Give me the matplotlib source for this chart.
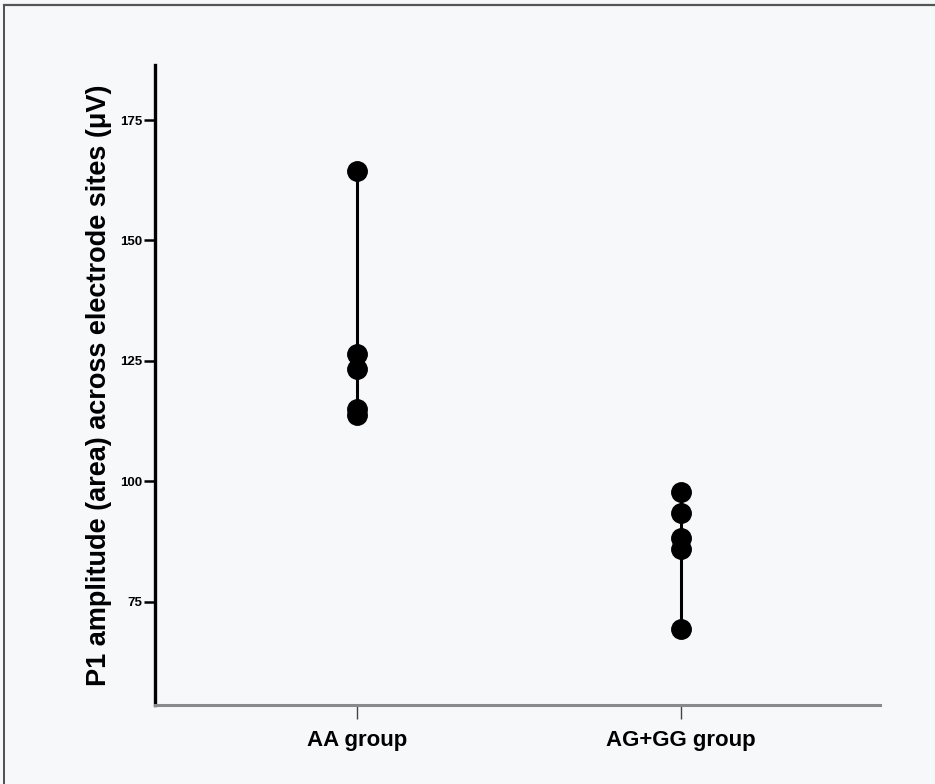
import matplotlib
matplotlib.use("Agg")
import matplotlib.pyplot as plt
from matplotlib.lines import Line2D

groups = ["AA group", "AG+GG group"]
aa_values = [164.5, 126.5, 123.4, 115.0, 113.8]
ag_gg_values = [97.8, 93.4, 88.3, 86.0, 69.4]
series = [aa_values, ag_gg_values]
yticks = [75, 100, 125, 150, 175]

plt.rcParams['font.family'] = ['Liberation Sans', 'DejaVu Sans']

fig = plt.figure(figsize=(9.35, 7.84), dpi=100, facecolor='#f7f8fa')
ax = fig.add_axes([0.1658, 0.1008, 0.7754, 0.8162])
ax.set_facecolor('#f7f8fa')

for i, vals in enumerate(series):
    ax.plot([i, i], [min(vals), max(vals)], color='black', lw=2.2, zorder=2)
    ax.plot([i] * len(vals), vals, 'o', color='black', ms=14, zorder=3)

ax.set_xlim(-0.623, 1.614)
ax.set_ylim(53.6, 186.4)
ax.set_yticks(yticks)
ax.set_yticklabels([str(t) for t in yticks], fontsize=9.5, fontweight='bold')
ax.set_xticks([0, 1])
ax.set_xticklabels(groups, fontsize=16, fontweight='bold')

for s in ['top', 'right']:
    ax.spines[s].set_visible(False)
ax.spines['left'].set_linewidth(2.4)
ax.spines['left'].set_color('black')
ax.spines['bottom'].set_linewidth(2.2)
ax.spines['bottom'].set_color('#8a8a8a')
ax.tick_params(axis='y', direction='out', length=8, width=1.8, color='black', pad=1)
ax.tick_params(axis='x', direction='out', length=10, width=1.0, color='#444444', pad=8)

ax.set_ylabel("P1 amplitude (area) across electrode sites (\u03bcV)",
              fontsize=19.5, fontweight='bold', labelpad=6)

# Frame lines along the top and left edges of the figure
fig.add_artist(Line2D([0.004, 0.004], [0.0, 0.994], transform=fig.transFigure,
                      color='#333333', lw=1.2))
fig.add_artist(Line2D([0.004, 1.0], [0.994, 0.994], transform=fig.transFigure,
                      color='#555555', lw=1.6))

fig.savefig("out.png", dpi=100, facecolor=fig.get_facecolor())
